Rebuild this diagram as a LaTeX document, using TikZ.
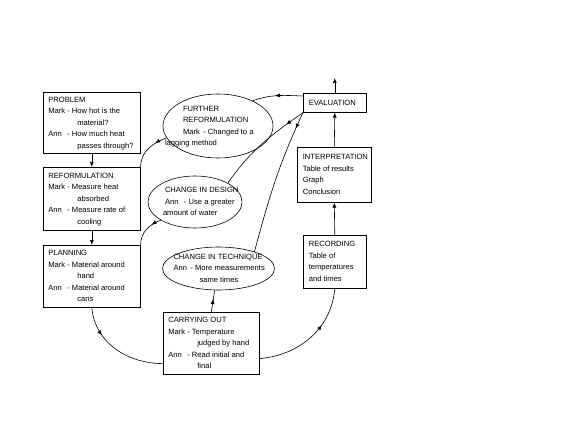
\documentclass[tikz,border=0pt]{standalone}
\usepackage{fontspec}
\setmainfont{Liberation Sans}
\usetikzlibrary{arrows.meta,decorations.markings,shapes.geometric,calc}
\newcommand{\fsz}{\fontsize{7.6}{11.5}\selectfont}
\newcommand{\nm}[1]{\makebox[19pt][l]{#1}}
\newcommand{\ct}{\hspace*{29pt}}
\newcommand{\lines}[1]{\begin{tabular}[c]{@{}l@{}}#1\end{tabular}}
% text block placed with its left edge #1 from the node centre
\newcommand{\zbox}[2]{\makebox[0pt][l]{\hspace*{#1}\smash{\raisebox{-2pt}{\lines{#2}}}}}
\begin{document}
\begin{tikzpicture}[x=1pt,y=1pt,
  box/.style={draw, line width=0.6pt, rectangle, anchor=north west,
    inner xsep=5pt, inner ysep=1pt, font=\fsz},
  oval/.style={draw, line width=0.6pt, ellipse, inner sep=0pt, font=\fsz},
  conn/.style={line width=0.6pt},
  tip/.style={conn, -{Latex[length=5pt,width=4pt]}},
  midarrow/.style={conn, postaction={decorate}, decoration={markings,
    mark=at position #1 with {\arrow{Latex[length=5pt,width=4pt]}}}}]
\fill[white] (0,0) rectangle (576,432);
\useasboundingbox (0,0) rectangle (576,432);

% boxes
\node[box, minimum width=97pt, minimum height=61pt] (problem) at (43,340)
  {\zbox{-43.5pt}{PROBLEM\\ \nm{Mark}- How hot is the\\ \ct material?\\ \nm{Ann}- How much heat\\ \ct passes through?}};
\node[box, minimum width=97pt, minimum height=63pt] (reform) at (43,265)
  {\zbox{-43.5pt}{REFORMULATION\\ \nm{Mark}- Measure heat\\ \ct absorbed\\ \nm{Ann}- Measure rate of\\ \ct cooling}};
\node[box, minimum width=97pt, minimum height=62pt] (planning) at (43,187)
  {\zbox{-43.5pt}{PLANNING\\ \nm{Mark}- Material around\\ \ct hand\\ \nm{Ann}- Material around\\ \ct cans}};
\node[box, minimum width=96pt, minimum height=62pt] (carrying) at (163,120)
  {\zbox{-43pt}{CARRYING OUT\\ \nm{Mark}- Temperature\\ \ct judged by hand\\ \nm{Ann}- Read initial and\\ \ct final}};
\node[box, minimum width=63pt, minimum height=53pt] (recording) at (303,197)
  {\zbox{-26pt}{RECORDING\\ Table of\\ temperatures\\ and times}};
\node[box, minimum width=74pt, minimum height=55pt] (interp) at (297,285)
  {\zbox{-31.5pt}{INTERPRETATION\\ Table of results\\ Graph\\ Conclusion}};
\node[box, minimum width=63pt, minimum height=19pt] (eval) at (303,339)
  {\zbox{-26pt}{EVALUATION}};

% ellipses
\node[oval, minimum width=110pt, minimum height=64pt] (further) at (218,306)
  {\zbox{-35pt}{FURTHER\\ REFORMULATION\\ Mark\ \,- Changed to a\\ \hspace*{-18pt}lagging method}};
\node[oval, minimum width=94pt, minimum height=52pt] (design) at (195,230)
  {\zbox{-30pt}{CHANGE IN DESIGN\\ \makebox[19pt][l]{Ann}- Use a greater\\ \hspace*{-2pt}amount of water}};
\node[oval, minimum width=112pt, minimum height=43pt] (technique) at (218.5,163.5)
  {\zbox{-45pt}{CHANGE IN TECHNIQUE\\ \makebox[17pt][l]{Ann}- More measurements\\ \hspace*{26pt}same times}};

% straight connectors
\draw[tip] (problem.south) -- (reform.north);
\draw[tip] (reform.south) -- (planning.north);
\draw[tip] (recording.north) -- (interp.south);
\draw[tip] (interp.north) -- (eval.south);
\coordinate (up) at ($(eval.north)+(0,15)$);
\draw[tip] (eval.north) -- (up);

% curved connectors
\draw[midarrow=0.3] (further.193) to[out=200,in=90] (reform.north east);
\draw[midarrow=0.3] (design.208) to[out=200,in=90] (planning.north east);
\draw[midarrow=0.6] (carrying.north) -- (technique.260);
\draw[midarrow=0.3] (planning.south) to[out=-85,in=180] ($(carrying.south west)+(0,11)$);
\draw[midarrow=0.65] ($(carrying.south east)+(0,16)$) to[out=5,in=-95] (recording.south);
\draw[midarrow=0.55] ($(eval.north west)+(0,-3)$) to[out=178,in=20] (further.36);
\draw[midarrow=0.2] (eval.south west) to[out=215,in=55] (design.30);
\draw[midarrow=0.12] (eval.south west) to[out=245,in=75] (technique.25);
\end{tikzpicture}
\end{document}
